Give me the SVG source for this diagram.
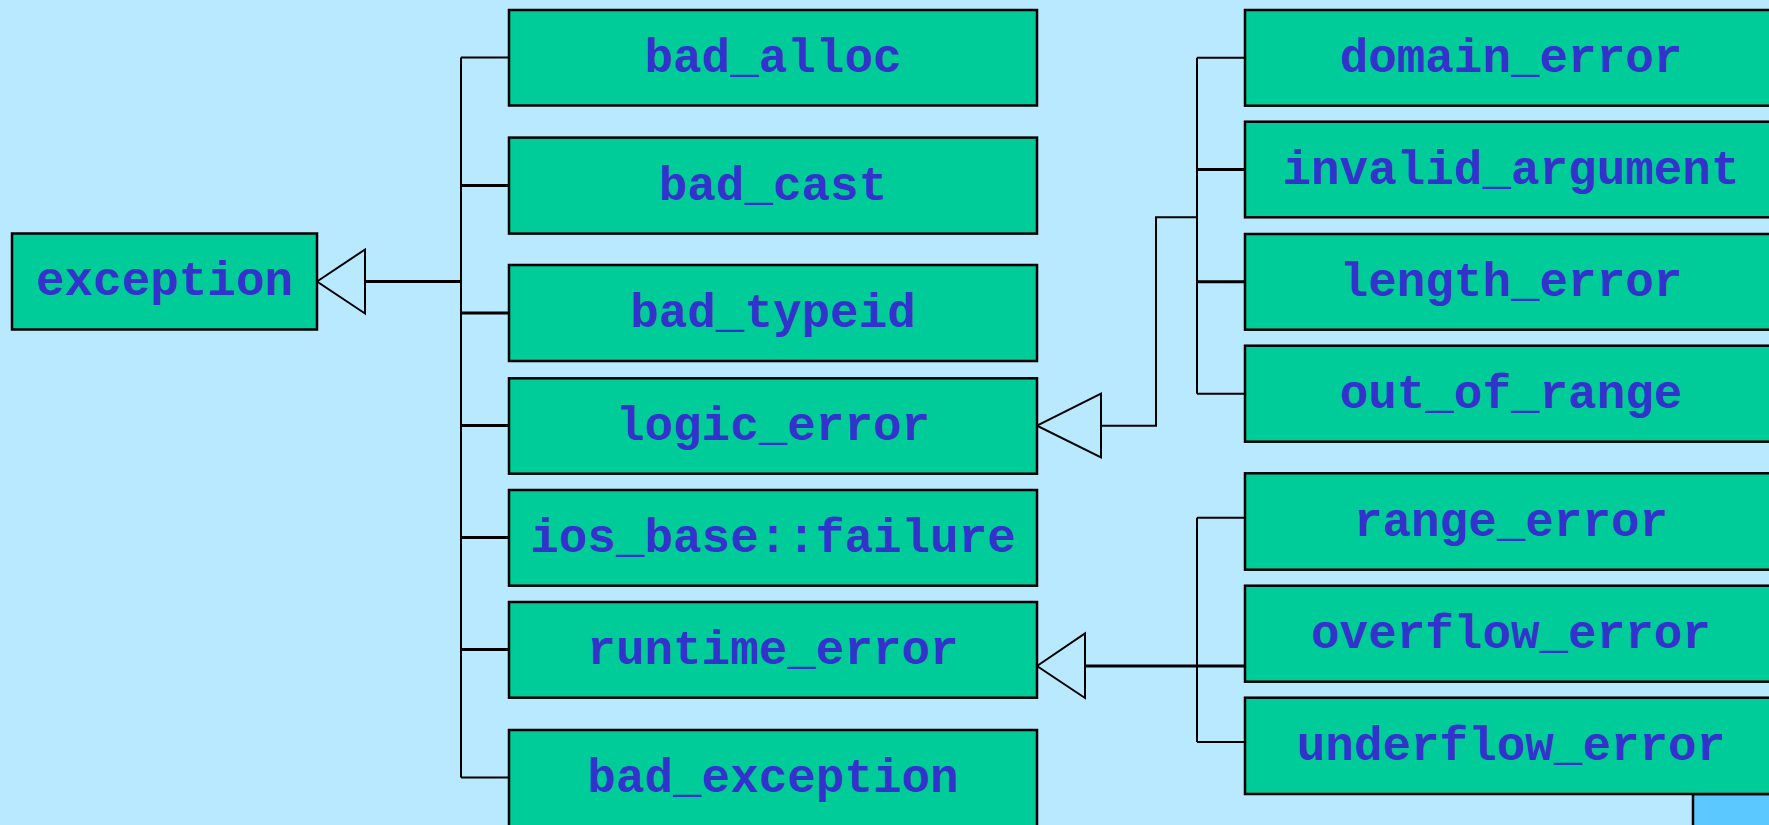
<svg xmlns="http://www.w3.org/2000/svg" width="1769" height="825" viewBox="0 0 1769 825">
<style>
.box{fill:#00CC99;stroke:#000;stroke-width:2.5}
.lbl{font-family:"Liberation Mono","Courier New",monospace;font-weight:bold;font-size:47.6px;fill:#3333CC;text-anchor:middle}
.ln{fill:none;stroke:#000;stroke-width:2}
.lnb{fill:none;stroke:#000;stroke-width:3}
.tri{fill:#B8E9FF;stroke:#000;stroke-width:2}
</style>
<rect x="0" y="0" width="1769" height="825" fill="#B8E9FF"/>
<rect x="1693" y="794" width="80" height="40" fill="#5BC8FF" stroke="#000" stroke-width="2.5"/>
<g id="connectors">
  <path class="ln" d="M461,57.5 V777.5 M461,57.5 H509 M461,777.5 H509"/>
  <path class="lnb" d="M365,281.5 H461 M461,185.5 H509 M461,313 H509 M461,425.5 H509 M461,537.5 H509 M461,649.5 H509"/>
  <polygon class="tri" points="317,281.5 365,249.5 365,313.5"/>
  <path class="ln" d="M1197,57.8 V393.7 M1197,57.8 H1245 M1197,393.7 H1245 M1197,217.3 H1156 V425.7 H1101"/>
  <path class="lnb" d="M1197,169.5 H1245 M1197,281.8 H1245"/>
  <polygon class="tri" points="1037,425.7 1101,393.5 1101,457.5"/>
  <path class="ln" d="M1197,517.7 V742 M1197,517.7 H1245 M1197,742 H1245"/>
  <path class="lnb" d="M1085,666 H1245"/>
  <polygon class="tri" points="1037,666 1085,633.5 1085,698"/>
</g>
<g id="exception"><rect class="box" x="12" y="233.5" width="305" height="96"/><text class="lbl" x="164.5" y="295">exception</text></g>
<g id="bad_alloc"><rect class="box" x="509" y="10" width="528" height="95.5"/><text class="lbl" x="773" y="71.5">bad_alloc</text></g>
<g id="bad_cast"><rect class="box" x="509" y="137.6" width="528" height="96"/><text class="lbl" x="773" y="199.5">bad_cast</text></g>
<g id="bad_typeid"><rect class="box" x="509" y="265" width="528" height="96"/><text class="lbl" x="773" y="326.5">bad_typeid</text></g>
<g id="logic_error"><rect class="box" x="509" y="378.3" width="528" height="95.4"/><text class="lbl" x="773" y="439.5">logic_error</text></g>
<g id="ios_base_failure"><rect class="box" x="509" y="490" width="528" height="95.7"/><text class="lbl" x="773" y="551.5">ios_base::failure</text></g>
<g id="runtime_error"><rect class="box" x="509" y="602" width="528" height="95.7"/><text class="lbl" x="773" y="663.5">runtime_error</text></g>
<g id="bad_exception"><rect class="box" x="509" y="730" width="528" height="100"/><text class="lbl" x="773" y="791.5">bad_exception</text></g>
<g id="domain_error"><rect class="box" x="1245" y="10" width="540" height="95.7"/><text class="lbl" x="1511" y="71.5">domain_error</text></g>
<g id="invalid_argument"><rect class="box" x="1245" y="121.7" width="540" height="95.6"/><text class="lbl" x="1511" y="183.5">invalid_argument</text></g>
<g id="length_error"><rect class="box" x="1245" y="234" width="540" height="95.7"/><text class="lbl" x="1511" y="295.5">length_error</text></g>
<g id="out_of_range"><rect class="box" x="1245" y="345.7" width="540" height="96"/><text class="lbl" x="1511" y="407.5">out_of_range</text></g>
<g id="range_error"><rect class="box" x="1245" y="473.3" width="540" height="96.4"/><text class="lbl" x="1511" y="535.5">range_error</text></g>
<g id="overflow_error"><rect class="box" x="1245" y="585.7" width="540" height="96"/><text class="lbl" x="1511" y="647.5">overflow_error</text></g>
<g id="underflow_error"><rect class="box" x="1245" y="697.7" width="540" height="96.3"/><text class="lbl" x="1511" y="759.5">underflow_error</text></g>
</svg>
